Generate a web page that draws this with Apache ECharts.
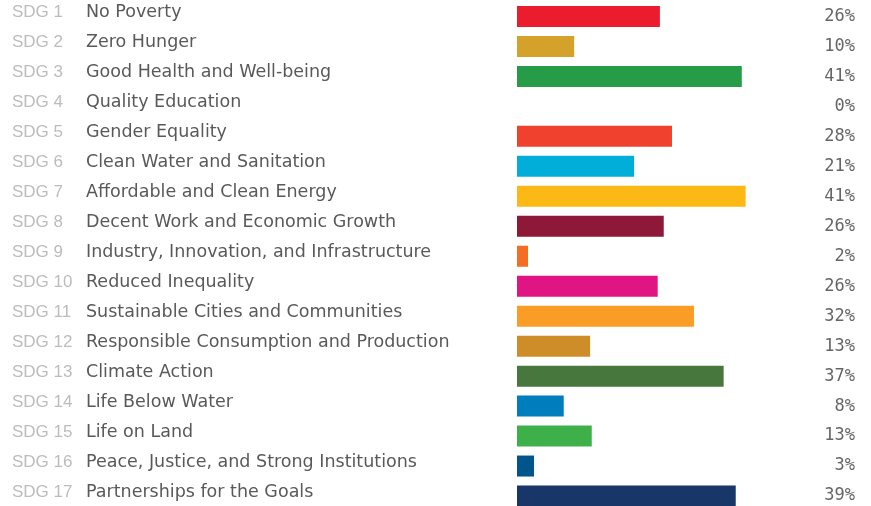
<!DOCTYPE html>
<html>
<head>
<meta charset="utf-8">
<script src="https://cdn.jsdelivr.net/npm/echarts@6/dist/echarts.min.js"></script>
<style>
    html, body { margin: 0; padding: 0; background: #fff; }
    #chart { width: 871px; height: 506px; }
</style>
</head>
<body>
<div id="chart"></div>
<script>
// SDG codes and names
var codes = ['SDG 1', 'SDG 2', 'SDG 3', 'SDG 4', 'SDG 5', 'SDG 6', 'SDG 7', 'SDG 8', 'SDG 9',
    'SDG 10', 'SDG 11', 'SDG 12', 'SDG 13', 'SDG 14', 'SDG 15', 'SDG 16', 'SDG 17'];
var names = ['No Poverty', 'Zero Hunger', 'Good Health and Well-being', 'Quality Education',
    'Gender Equality', 'Clean Water and Sanitation', 'Affordable and Clean Energy',
    'Decent Work and Economic Growth', 'Industry, Innovation, and Infrastructure',
    'Reduced Inequality', 'Sustainable Cities and Communities',
    'Responsible Consumption and Production', 'Climate Action', 'Life Below Water',
    'Life on Land', 'Peace, Justice, and Strong Institutions', 'Partnerships for the Goals'];
// bar lengths and printed labels
var values = [26.0, 10.4, 40.9, 0, 28.2, 21.3, 41.6, 26.7, 2.0, 25.6, 32.2, 13.3, 37.6, 8.5, 13.6, 3.1, 39.8];
var pctLabels = ['26%', '10%', '41%', '0%', '28%', '21%', '41%', '26%', '2%', '26%', '32%', '13%',
    '37%', '8%', '13%', '3%', '39%'];
var colors = ['#EC1C2F', '#D4A22A', '#269C48', '#C5192D', '#F0402E', '#00AED9', '#FCB814', '#8E1838',
    '#F36D25', '#E11484', '#FA9D26', '#CF8D2A', '#48773E', '#007DBC', '#3EB049', '#02558B', '#183668'];

var myChart = echarts.init(document.getElementById('chart'));

var option = {
    backgroundColor: '#fff',
    animation: false,
    grid: {
        left: 517,
        right: 16,
        top: 1.5,
        bottom: -5,
        outerBoundsMode: 'none'
    },
    xAxis: {
        type: 'value',
        min: 0,
        max: 61.5,
        show: false
    },
    yAxis: [{
        type: 'category',
        inverse: true,
        data: codes,
        axisLine: { show: false },
        axisTick: { show: false },
        axisLabel: {
            align: 'left',
            margin: 505,
            padding: [0, 0, 8, 0],
            formatter: function (val, i) {
                return '{a|' + val + '}{b|' + names[i] + '}';
            },
            rich: {
                a: {
                    width: 74,
                    fontFamily: 'Liberation Sans',
                    fontSize: 17,
                    color: '#bcbcbc'
                },
                b: {
                    fontFamily: 'DejaVu Sans',
                    fontSize: 17.5,
                    color: '#595959'
                }
            }
        }
    }, {
        type: 'category',
        inverse: true,
        position: 'right',
        data: pctLabels,
        axisLine: { show: false },
        axisTick: { show: false },
        axisLabel: {
            align: 'right',
            margin: 0,
            padding: [5, 0, 0, 0],
            fontFamily: 'DejaVu Sans Mono',
            fontWeight: 300,
            fontSize: 17,
            color: '#666'
        }
    }],
    series: [{
        type: 'bar',
        data: values.map(function (v, i) {
            return { value: v, itemStyle: { color: colors[i] } };
        }),
        barWidth: 21,
        silent: true
    }]
};
myChart.setOption(option);
</script>
</body>
</html>
